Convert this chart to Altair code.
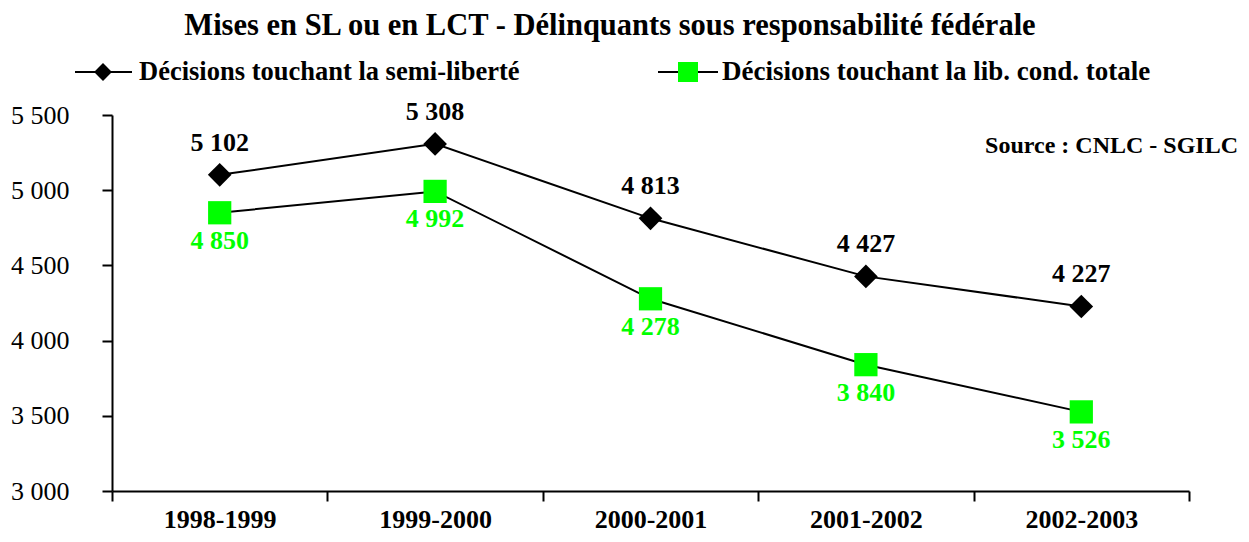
import altair as alt
import pandas as pd

years = ["1998-1999", "1999-2000", "2000-2001", "2001-2002", "2002-2003"]
sl_values = [5102, 5308, 4813, 4427, 4227]
lct_values = [4850, 4992, 4278, 3840, 3526]
series_names = ["Décisions touchant la semi-liberté", "Décisions touchant la lib. cond. totale"]
y_ticks = [3000, 3500, 4000, 4500, 5000, 5500]

title_text = "Mises en SL ou en LCT - Délinquants sous responsabilité fédérale"
source_text = "Source : CNLC - SGILC"

FONT = "Liberation Serif"
GREEN = "#00ff00"

df = pd.DataFrame({
    "year": years * 2,
    "value": sl_values + lct_values,
    "series": [series_names[0]] * len(years) + [series_names[1]] * len(years),
})

base = alt.Chart(df).transform_calculate(
    label="replace(format(datum.value, ','), ',', ' ')"
)

x_enc = alt.X(
    "year:N",
    sort=years,
    scale=alt.Scale(type="band", paddingInner=0, paddingOuter=0),
    axis=alt.Axis(
        title=None, labelAngle=0, labelFont=FONT, labelFontSize=26,
        labelFontWeight="bold", labelColor="black", tickBand="extent",
        tickSize=10, tickColor="black", tickWidth=2, domainColor="black",
        domainWidth=2, labelPadding=26, labelBaseline="alphabetic", grid=False,
    ),
)
y_enc = alt.Y(
    "value:Q",
    scale=alt.Scale(domain=[3000, 5500], nice=False, zero=False),
    axis=alt.Axis(
        title=None, values=y_ticks,
        labelExpr="replace(format(datum.value, ','), ',', ' ')",
        labelFont=FONT, labelFontSize=26, labelColor="black",
        tickSize=10, tickColor="black", tickWidth=2, domainColor="black",
        domainWidth=2, labelPadding=33, grid=False,
    ),
)

lines = base.mark_line(color="black", strokeWidth=2).encode(
    x=x_enc, y=y_enc, detail="series:N"
)

points = base.mark_point(filled=True, opacity=1).encode(
    x=x_enc, y=y_enc,
    shape=alt.Shape("series:N", scale=alt.Scale(domain=series_names, range=["diamond", "square"]), legend=None),
    color=alt.Color("series:N", scale=alt.Scale(domain=series_names, range=["black", GREEN]), legend=None),
    size=alt.Size("series:N", scale=alt.Scale(domain=series_names, range=[560, 540]), legend=None),
)

labels_sl = base.transform_filter(alt.datum.series == series_names[0]).mark_text(
    font=FONT, fontSize=26, fontWeight="bold", color="black", dy=-24,
    baseline="alphabetic", align="center",
).encode(x=x_enc, y=y_enc, text="label:N")

labels_lct = base.transform_filter(alt.datum.series == series_names[1]).mark_text(
    font=FONT, fontSize=26, fontWeight="bold", color=GREEN, dy=36,
    baseline="alphabetic", align="center",
).encode(x=x_enc, y=y_enc, text="label:N")

one = alt.Data(values=[{"k": 1}])

title_mark = alt.Chart(one).mark_text(
    text=title_text, font=FONT, fontSize=30.5, fontWeight="bold", color="black",
    align="center", baseline="alphabetic",
).encode(x=alt.value(498), y=alt.value(-80))

leg1_rule = alt.Chart(one).mark_rule(color="black", strokeWidth=2).encode(
    x=alt.value(-37), x2=alt.value(20), y=alt.value(-43)
)
leg1_pt = alt.Chart(one).mark_point(shape="diamond", filled=True, opacity=1, color="black", size=320).encode(
    x=alt.value(-9), y=alt.value(-43)
)
leg1_txt = alt.Chart(one).mark_text(
    text=series_names[0], font=FONT, fontSize=26.5, fontWeight="bold", color="black",
    align="left", baseline="alphabetic",
).encode(x=alt.value(27), y=alt.value(-35))

leg2_rule = alt.Chart(one).mark_rule(color="black", strokeWidth=2).encode(
    x=alt.value(546), x2=alt.value(606), y=alt.value(-43)
)
leg2_pt = alt.Chart(one).mark_point(shape="square", filled=True, opacity=1, color=GREEN, size=400).encode(
    x=alt.value(576), y=alt.value(-43)
)
leg2_txt = alt.Chart(one).mark_text(
    text=series_names[1], font=FONT, fontSize=27, fontWeight="bold", color="black",
    align="left", baseline="alphabetic",
).encode(x=alt.value(610), y=alt.value(-35))

source_mark = alt.Chart(one).mark_text(
    text=source_text, font=FONT, fontSize=24, fontWeight="bold", color="black",
    align="right", baseline="alphabetic",
).encode(x=alt.value(1126), y=alt.value(38))

chart = alt.layer(
    lines, points, labels_sl, labels_lct,
    title_mark, leg1_rule, leg1_pt, leg1_txt, leg2_rule, leg2_pt, leg2_txt, source_mark,
).properties(
    width=1077, height=376,
    padding={"left": 104, "top": 107, "right": 52, "bottom": 43},
    autosize=alt.AutoSizeParams(type="none"),
    background="white",
).configure_view(stroke=None)

chart.save("out.html", embed_options={"renderer": "svg", "actions": False})
